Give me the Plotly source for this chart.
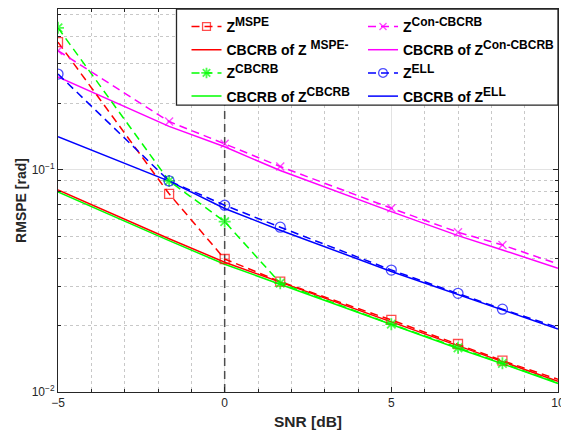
import plotly.graph_objects as go
import math

# ---------------- data ----------------
snr = [-5, -1.667, 0, 1.667, 5, 7, 8.333, 10]
marker_on = [1, 1, 1, 1, 1, 1, 1, 0]

z_mspe    = [0.376, 0.078, 0.0397, 0.0314, 0.0211, 0.01645, 0.01384, 0.0114]
crb_mspe  = [0.0813, 0.049, 0.0384, 0.0312, 0.0206, 0.0161, 0.0137, 0.01117]
z_cbcrb   = [0.436, 0.0892, 0.0585, 0.0309, 0.0202, 0.0158, 0.01346, 0.0110]
crb_cbcrb = [0.0796, 0.048, 0.0376, 0.0305, 0.0201, 0.0157, 0.0134, 0.01093]
z_con     = [0.344, 0.165, 0.131, 0.1035, 0.0672, 0.0524, 0.0459, 0.0377]
crb_con   = [0.262, 0.157, 0.127, 0.0993, 0.0649, 0.0506, 0.0436, 0.0361]
z_ell     = [0.270, 0.0892, 0.0693, 0.0552, 0.0354, 0.0278, 0.0236, 0.0195]
crb_ell   = [0.141, 0.089, 0.067, 0.0535, 0.0349, 0.0275, 0.0233, 0.0192]

ref_snr = 0
x_ticks = [-5, 0, 5, 10]
x_ticktext = ["\u22125", "0", "5", "10"]
y_ticks = [0.01, 0.1]
y_ticktext = ["10<sup>\u22122</sup>", "10<sup>\u22121</sup>"]
y_minor = [0.02, 0.03, 0.04, 0.05, 0.06, 0.07, 0.08, 0.09, 0.2, 0.3, 0.4, 0.5]
y_lim = [0.01, 0.53]
x_lim = [-5, 10]

FONT = "Liberation Sans"
DASH = "8px,5px"

def sup(s):
    return '<sup><span style="font-size:12px">' + s + '</span></sup>'

N_MSPE = "Z" + sup("MSPE")
N_CRB_MSPE = "CBCRB of Z " + sup("MSPE-")
N_CBCRB = "Z" + sup("CBCRB")
N_CRB_CBCRB = "CBCRB of Z" + sup("CBCRB")
N_CON = "Z" + sup("Con-CBCRB")
N_CRB_CON = "CBCRB of Z" + sup("Con-CBCRB")
N_ELL = "Z" + sup("ELL")
N_CRB_ELL = "CBCRB of Z" + sup("ELL")

fig = go.Figure()

def est(name, y, color, symbol, size, lw, legend, rank):
    fig.add_trace(go.Scatter(
        x=snr, y=y, name=name, mode="lines+markers", legend=legend, legendrank=rank,
        legendgroup=legend + str(rank),
        line=dict(color=color, width=1.5, dash=DASH),
        marker=dict(symbol=symbol, size=[size * m for m in marker_on],
                    color=color, line=dict(color=color, width=lw)),
    ))

def crb(name, y, color, legend, rank):
    fig.add_trace(go.Scatter(
        x=snr, y=y, name=name, mode="lines", legend=legend, legendrank=rank,
        legendgroup=legend + str(rank),
        line=dict(color=color, width=1.5),
    ))

RED, GREEN, MAG, BLUE = "#ff0000", "#00ff00", "#ff00ff", "#0000ff"

# reference line at 0 dB
fig.add_trace(go.Scatter(x=[ref_snr, ref_snr], y=y_lim, mode="lines",
                         line=dict(color="#4d4d4d", width=1.5, dash=DASH),
                         showlegend=False, hoverinfo="skip"))

crb(N_CRB_CBCRB, crb_cbcrb, GREEN, "legend", 4)
crb(N_CRB_MSPE, crb_mspe, RED, "legend", 2)
crb(N_CRB_CON, crb_con, MAG, "legend2", 2)
crb(N_CRB_ELL, crb_ell, BLUE, "legend2", 4)
est(N_MSPE, z_mspe, RED, "square-open", 9, 1.3, "legend", 1)
est(N_CBCRB, z_cbcrb, GREEN, "asterisk-open", 10, 1.8, "legend", 3)
est(N_CON, z_con, MAG, "x-thin-open", 8, 1.4, "legend2", 1)
est(N_ELL, z_ell, BLUE, "circle-open", 10, 1.3, "legend2", 3)

# legend box
fig.add_shape(type="rect", xref="paper", yref="paper", x0=0.237, x1=1.0, y0=0.749, y1=1.0,
              fillcolor="white", line=dict(color="#262626", width=1.3), layer="above")

axis_common = dict(
    showline=True, linecolor="#262626", linewidth=1, mirror="ticks",
    ticks="inside", ticklen=5, tickcolor="#262626", tickwidth=1,
    showgrid=True, gridcolor="#e3e3e3", gridwidth=1, zeroline=False,
    tickfont=dict(family=FONT, size=12, color="#262626"),
    automargin=False,
)

fig.update_xaxes(
    range=x_lim, tickmode="array", tickvals=x_ticks, ticktext=x_ticktext,
    minor=dict(dtick=1, showgrid=True, gridcolor="#c8c8c8", griddash="dot",
               ticks="inside", ticklen=3, tickcolor="#262626"),
    title=dict(text="SNR [dB]", font=dict(family=FONT, size=15.5, weight="bold", color="#262626"), standoff=14),
    **axis_common,
)
fig.update_yaxes(
    type="log", range=[math.log10(y_lim[0]), math.log10(y_lim[1])],
    tickmode="array", tickvals=y_ticks, ticktext=y_ticktext,
    minor=dict(tickmode="array", tickvals=y_minor, showgrid=True, gridcolor="#c8c8c8",
               griddash="dot", ticks="inside", ticklen=3, tickcolor="#262626"),
    title=dict(text="RMSPE [rad]", font=dict(family=FONT, size=14, weight="bold", color="#262626"), standoff=1),
    **axis_common,
)

leg_common = dict(
    bgcolor="rgba(0,0,0,0)", borderwidth=0,
    font=dict(family=FONT, size=14, weight="bold", color="black"),
    yanchor="top", xanchor="left", y=0.995, traceorder="grouped", tracegroupgap=2,
)
# page is drawn with an 8px body margin, so the figure is 8px smaller and margins reduced
fig.update_layout(
    width=561, height=422,
    margin=dict(l=50, r=11, t=1, b=38),
    plot_bgcolor="white", paper_bgcolor="white",
    legend=dict(x=0.257, **leg_common),
    legend2=dict(x=0.61, **leg_common),
    font=dict(family=FONT),
)

fig.write_html("out.html")
